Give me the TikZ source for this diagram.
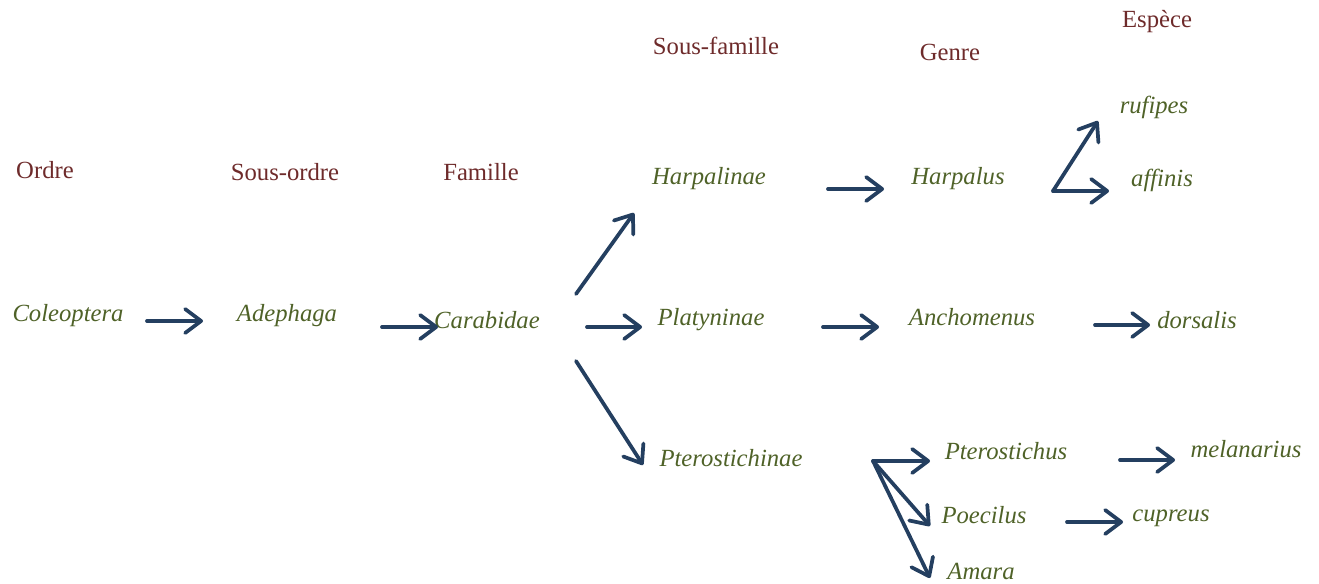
\documentclass[tikz,border=0pt]{standalone}
\usepackage{fontspec}
\setmainfont{Liberation Serif}
\usetikzlibrary{arrows.meta}
\definecolor{headred}{HTML}{6E2B2B}
\definecolor{taxgreen}{HTML}{4F6228}
\definecolor{arrowblue}{HTML}{243F60}
\tikzset{
  head/.style={text=headred, inner sep=0pt, font=\fontsize{18.5}{20}\selectfont},
  taxon/.style={text=taxgreen, inner sep=0pt, font=\fontsize{18.5}{20}\selectfont\itshape},
  link/.style={draw=arrowblue, line width=2.8pt, line cap=round, line join=round,
    -{Straight Barb[length=12pt,width=18pt,line cap=round,line join=round]}}
}
\begin{document}
\begin{tikzpicture}[x=0.75pt,y=-0.75pt]
\useasboundingbox (0,0) rectangle (1319,584);
% headings
\node[head] (hOrdre) at (45,170) {Ordre};
\node[head] (hSousordre) at (285,172) {Sous-ordre};
\node[head] (hFamille) at (481,172) {Famille};
\node[head] (hSousfamille) at (716,46) {Sous-famille};
\node[head] (hGenre) at (950,52) {Genre};
\node[head] (hEspece) at (1157,22) {Espèce};
% taxa
\node[taxon] (coleoptera) at (68,316) {Coleoptera};
\node[taxon] (adephaga) at (287,316) {Adephaga};
\node[taxon] (carabidae) at (487,320) {Carabidae};
\node[taxon] (harpalinae) at (709,179) {Harpalinae};
\node[taxon] (platyninae) at (711,320) {Platyninae};
\node[taxon] (pterostichinae) at (731,458) {Pterostichinae};
\node[taxon] (harpalus) at (958,179) {Harpalus};
\node[taxon] (anchomenus) at (972,317) {Anchomenus};
\node[taxon] (pterostichus) at (1006,451) {Pterostichus};
\node[taxon] (poecilus) at (984,515) {Poecilus};
\node[taxon] (amara) at (981,571) {Amara};
\node[taxon] (rufipes) at (1154,107) {rufipes};
\node[taxon] (affinis) at (1162,180) {affinis};
\node[taxon] (dorsalis) at (1197,320) {dorsalis};
\node[taxon] (melanarius) at (1246,449) {melanarius};
\node[taxon] (cupreus) at (1171,518) {cupreus};
% connector end points
\coordinate (a1s) at (147,321);  \coordinate (a1e) at (203,321);
\coordinate (a2s) at (382,327);  \coordinate (a2e) at (438,327);
\coordinate (a3s) at (576,294);  \coordinate (a3e) at (634,213);
\coordinate (a4s) at (587,327);  \coordinate (a4e) at (642,327);
\coordinate (a5s) at (576,361);  \coordinate (a5e) at (643,465);
\coordinate (a6s) at (828,189);  \coordinate (a6e) at (884,189);
\coordinate (a7s) at (823,327);  \coordinate (a7e) at (879,327);
\coordinate (a8s) at (1053,191); \coordinate (a8e) at (1098,121);
\coordinate (a9e) at (1109,191);
\coordinate (a10s) at (1095,325); \coordinate (a10e) at (1150,325);
\coordinate (a11s) at (873,461); \coordinate (a11e) at (930,461);
\coordinate (a12e) at (930,526);
\coordinate (a13e) at (930,578);
\coordinate (a14s) at (1120,460); \coordinate (a14e) at (1175,460);
\coordinate (a15s) at (1067,522); \coordinate (a15e) at (1123,522);
% connectors
\draw[link] (a1s) -- (a1e);
\draw[link] (a2s) -- (a2e);
\draw[link] (a3s) -- (a3e);
\draw[link] (a4s) -- (a4e);
\draw[link] (a5s) -- (a5e);
\draw[link] (a6s) -- (a6e);
\draw[link] (a7s) -- (a7e);
\draw[link] (a8s) -- (a8e);
\draw[link] (a8s) -- (a9e);
\draw[link] (a10s) -- (a10e);
\draw[link] (a11s) -- (a11e);
\draw[link] (a11s) -- (a12e);
\draw[link] (a11s) -- (a13e);
\draw[link] (a14s) -- (a14e);
\draw[link] (a15s) -- (a15e);
\end{tikzpicture}
\end{document}
